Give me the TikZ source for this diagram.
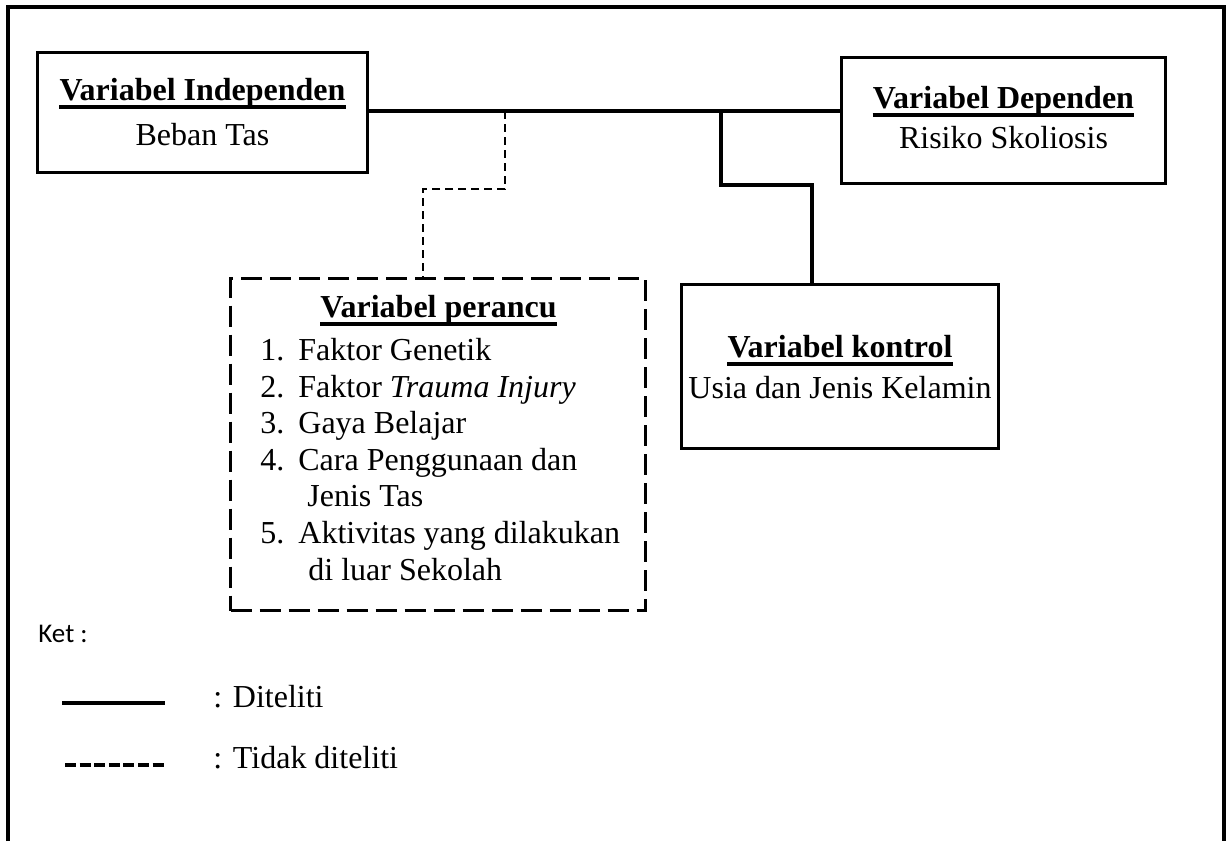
\documentclass[tikz,border=0pt]{standalone}
\usepackage{fontspec}
\setmainfont{Liberation Serif}
\newfontfamily\calibrifont{Carlito}
\tikzset{
  box/.style={draw, line width=1.4pt, inner sep=0pt},
  dbox/.style={draw, line width=1.4pt, dash pattern=on 10.5pt off 4pt, inner sep=0pt},
  conn/.style={line width=1.8pt},
  dconn/.style={line width=1pt, dash pattern=on 4pt off 2.5pt},
  txt/.style={inner sep=0pt, font=\fontsize{16}{18}\selectfont},
  ttl/.style={inner sep=0pt, font=\fontsize{16}{18}\selectfont\bfseries},
  ulline/.style={line width=1.6pt},
  frame/.style={line width=1.6pt},
  legsolid/.style={line width=1.8pt},
  legdash/.style={line width=1.8pt, dash pattern=on 5.5pt off 1.8pt}
}
\newcommand\ulnode[1]{\draw[ulline] ([yshift=-3.5pt]#1.base west) -- ([yshift=-3.5pt]#1.base east);}
\begin{document}
\begin{tikzpicture}[x=0.5pt,y=-0.5pt]
\useasboundingbox (0,0) rectangle (1230,841);
% outer frame (open at bottom)
\draw[frame] (8,841) -- (8,7) -- (1224,7) -- (1224,841);

% boxes
\node[box, minimum width=165pt, minimum height=60pt] (ind) at (202.5,112.5) {};
\node[box, minimum width=162pt, minimum height=63pt] (dep) at (1003.5,120.5) {};
\node[box, minimum width=158.5pt, minimum height=82pt] (ctrl) at (840,366.5) {};
\node[dbox, minimum width=207.5pt, minimum height=166pt] (per) at (438,444.5) {};

% texts in boxes
\node[ttl, anchor=base] (indT) at (202.5,100) {Variabel Independen};
\ulnode{indT}
\node[txt, anchor=base] (indS) at (202.5,145) {Beban Tas};

\node[ttl, anchor=base] (depT) at (1003.5,108) {Variabel Dependen};
\ulnode{depT}
\node[txt, anchor=base] (depS) at (1003.5,148) {Risiko Skoliosis};

\node[ttl, anchor=base] (ctrlT) at (840,357) {Variabel kontrol};
\ulnode{ctrlT}
\node[txt, anchor=base] (ctrlS) at (840,398) {Usia dan Jenis Kelamin};

\node[ttl, anchor=base] (perT) at (438.5,317) {Variabel perancu};
\ulnode{perT}
\node[txt, anchor=base west] (n1) at (260,360) {1.};
\node[txt, anchor=base west] (i1) at (298,360) {Faktor Genetik};
\node[txt, anchor=base west] (n2) at (260,397) {2.};
\node[txt, anchor=base west] (i2) at (298,397) {Faktor \textit{Trauma Injury}};
\node[txt, anchor=base west] (n3) at (260,433) {3.};
\node[txt, anchor=base west] (i3) at (298,433) {Gaya Belajar};
\node[txt, anchor=base west] (n4) at (260,470) {4.};
\node[txt, anchor=base west] (i4) at (298,470) {Cara Penggunaan dan};
\node[txt, anchor=base west] (i4b) at (307,506) {Jenis Tas};
\node[txt, anchor=base west] (n5) at (260,543) {5.};
\node[txt, anchor=base west] (i5) at (298,543) {Aktivitas yang dilakukan};
\node[txt, anchor=base west] (i5b) at (308,580) {di luar Sekolah};

% connectors
\coordinate (m) at (0,111);
\draw[conn] (ind.east |- m) -- (dep.west |- m);
\coordinate (j1) at (721,111);
\coordinate (k1) at (812,185);
\draw[conn] (j1) |- (k1) -- (k1 |- ctrl.north);
\coordinate (d0) at (505,111);
\coordinate (d1) at (423,189);
\draw[dconn] (d0) |- (d1) -- (d1 |- per.north);

% legend
\node[inner sep=0pt, anchor=base west, font=\calibrifont\fontsize{13.5}{15}\selectfont] (ket) at (38,642) {Ket :};
\coordinate (ls0) at (62,703);
\coordinate (ls1) at (165,703);
\draw[legsolid] (ls0) -- (ls1);
\coordinate (ld0) at (65,765);
\coordinate (ld1) at (167,765);
\draw[legdash] (ld0) -- (ld1);
\node[txt, anchor=base west] (lg1) at (213,707) {: Diteliti};
\node[txt, anchor=base west] (lg2) at (213,768) {: Tidak diteliti};
\end{tikzpicture}
\end{document}
